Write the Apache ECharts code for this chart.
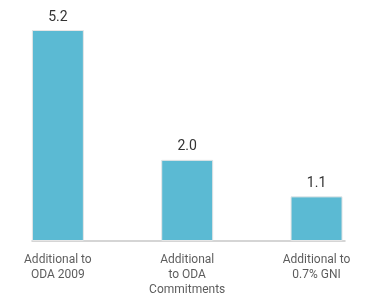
<!DOCTYPE html>
<html>
<head>
<meta charset="utf-8">
<script src="https://cdn.jsdelivr.net/npm/echarts@6/dist/echarts.min.js"></script>
<style>
html, body { margin: 0; padding: 0; background: #fff; }
#container { width: 368px; height: 299px; }
</style>
</head>
<body>
<div id="container"></div>
<script>
var categories = ['Additional to\nODA 2009', 'Additional\nto ODA\nCommitments', 'Additional to\n0.7% GNI'];
var values = [5.2, 2.0, 1.1];
var positions = [0, 1, 2];

var dom = document.getElementById('container');
var myChart = echarts.init(dom);

var barData = values.map(function (v, i) {
	return [positions[i], v];
});
// 分类标签放在坐标轴下方（居中多行）
var labelData = categories.map(function (c, i) {
	return { value: [positions[i], 0], name: c };
});

var option = {
	animation: false,
	grid: { left: 32, right: 23, top: 30, bottom: 58 },
	xAxis: {
		type: 'value',
		min: -0.2,
		max: 2.22,
		axisLine: { show: true, onZero: false, lineStyle: { color: '#c8c8c8', width: 1.5 } },
		axisTick: { show: false },
		splitLine: { show: false },
		axisLabel: { show: false }
	},
	yAxis: {
		type: 'value',
		min: 0,
		max: 5.2,
		show: false
	},
	series: [{
		type: 'bar',
		data: barData,
		barWidth: 52,
		itemStyle: {
			color: '#5bbad3',
			borderColor: '#e6e6e6',
			borderWidth: 1
		},
		label: {
			show: true,
			position: 'top',
			distance: 6,
			formatter: function (p) { return p.value[1].toFixed(1); },
			color: '#333',
			fontFamily: 'Roboto',
			fontSize: 14
		}
	}, {
		type: 'scatter',
		data: labelData,
		symbolSize: 0,
		silent: true,
		clip: false,
		label: {
			show: true,
			position: 'bottom',
			distance: 11,
			align: 'center',
			formatter: '{b}',
			color: '#333',
			fontFamily: 'Roboto',
			fontSize: 12,
			lineHeight: 15
		}
	}]
};

myChart.setOption(option);
</script>
</body>
</html>
